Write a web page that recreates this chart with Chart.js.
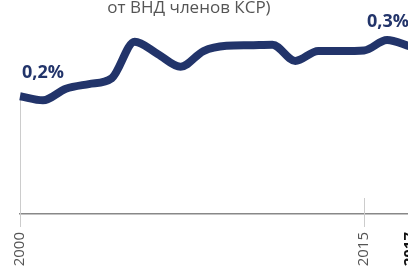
<!DOCTYPE html>
<html>
<head>
<meta charset="utf-8">
<script src="https://cdn.jsdelivr.net/npm/chart.js@4/dist/chart.umd.min.js"></script>
<style>
html,body{margin:0;padding:0;background:#fff;overflow:hidden;}
#wrap{width:408px;height:269px;overflow:hidden;}
</style>
</head>
<body>
<div id="wrap"><canvas id="c" width="410" height="269"></canvas></div>
<script>
const years = ['2000','2001','2002','2003','2004','2005','2006','2007','2008','2009','2010','2011','2012','2013','2014','2015','2016','2017'];
const values = [0.203,0.196,0.216,0.224,0.234,0.297,0.276,0.254,0.281,0.290,0.291,0.292,0.264,0.281,0.281,0.282,0.300,0.289];
const shownTicks = ['2000','2015','2017'];
const titleText = 'от ВНД членов КСР)';
const firstLabel = '0,2%';
const lastLabel = '0,3%';

const NAVY = '#22346a';

const decor = {
  id: 'decor',
  beforeDatasetsDraw(chart) {
    const ctx = chart.ctx, xs = chart.scales.x, ys = chart.scales.y;
    const bottom = chart.chartArea.bottom;
    ctx.save();
    ctx.strokeStyle = '#cccccc';
    ctx.lineWidth = 1;
    const x0 = Math.round(xs.getPixelForValue(0)) + 0.5;
    ctx.beginPath();
    ctx.moveTo(x0, ys.getPixelForValue(values[0]));
    ctx.lineTo(x0, bottom + 13);
    ctx.stroke();
    const x15 = Math.round(xs.getPixelForValue(years.indexOf('2015'))) + 0.5;
    ctx.beginPath();
    ctx.moveTo(x15, bottom - 16);
    ctx.lineTo(x15, bottom + 13);
    ctx.stroke();
    ctx.restore();
  },
  afterDraw(chart) {
    const ctx = chart.ctx, xs = chart.scales.x, ys = chart.scales.y;
    ctx.save();
    ctx.fillStyle = '#555555';
    ctx.font = '17px "Open Sans"';
    ctx.textAlign = 'center';
    ctx.textBaseline = 'alphabetic';
    ctx.fillText(titleText, 189, 13);
    ctx.fillStyle = NAVY;
    ctx.font = 'bold 18px "Open Sans"';
    ctx.textAlign = 'left';
    const fx = xs.getPixelForValue(0), fy = ys.getPixelForValue(values[0]);
    ctx.fillText(firstLabel, fx + 2, fy - 18);
    const li = values.length - 1;
    const lx = xs.getPixelForValue(li), ly = ys.getPixelForValue(values[li]);
    ctx.fillText(lastLabel, lx - 43, ly - 19.5);
    ctx.restore();
  }
};

new Chart(document.getElementById('c'), {
  type: 'line',
  data: {
    labels: years,
    datasets: [{
      data: values,
      borderColor: NAVY,
      borderWidth: 8,
      pointRadius: 0,
      cubicInterpolationMode: 'monotone',
      fill: false,
      clip: false
    }]
  },
  options: {
    responsive: false,
    animation: false,
    events: [],
    layout: { padding: { top: 20, left: 20, right: 0, bottom: 0 } },
    plugins: { legend: { display: false }, tooltip: { enabled: false }, title: { display: false } },
    scales: {
      x: {
        offset: false,
        grid: { display: false, drawTicks: false },
        border: { display: true, color: '#888888', width: 1.5 },
        ticks: {
          autoSkip: false,
          minRotation: 90,
          maxRotation: 90,
          padding: 18,
          color: ctx => (ctx.tick && ctx.tick.label === '2017') ? '#111111' : '#555555',
          font: ctx => (ctx.tick && ctx.tick.label === '2017') ? { family: 'Open Sans', size: 15, weight: 'bold' } : { family: 'Open Sans', size: 15 },
          callback: function(v, i) {
            const y = years[i];
            return shownTicks.includes(y) ? y : '';
          }
        },
        afterFit(scale) { scale.height = 55; scale.paddingLeft = 0; scale.paddingRight = 0; }
      },
      y: {
        display: false,
        min: 0,
        max: 0.3345
      }
    }
  },
  plugins: [decor]
});
</script>
</body>
</html>
